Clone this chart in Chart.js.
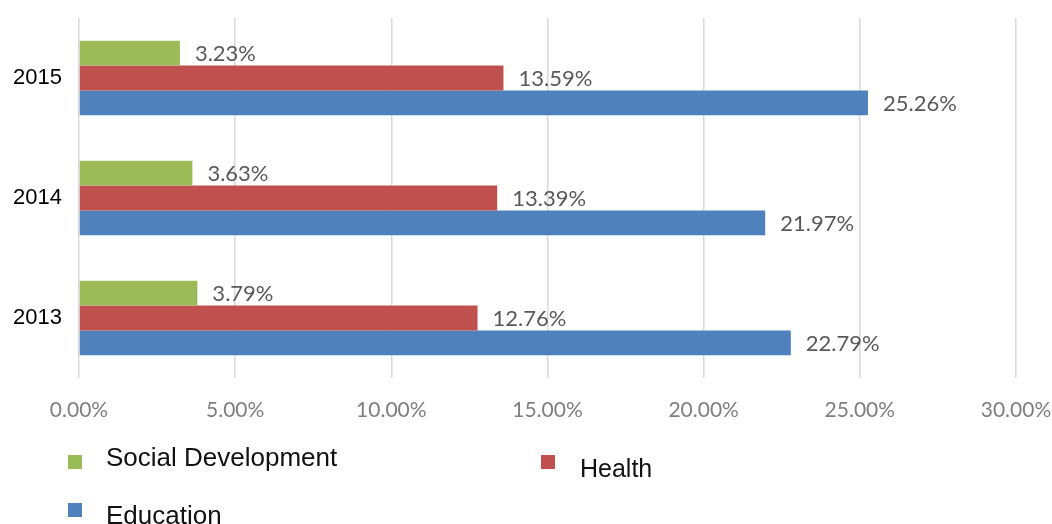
<!DOCTYPE html>
<html>
<head>
<meta charset="utf-8">
<script src="https://cdn.jsdelivr.net/npm/chart.js@4"></script>
<style>
  body { margin: 0; background: #fff; }
  #wrap { position: relative; width: 1052px; height: 524px; overflow: hidden; }
  .leg { position: absolute; font-family: "Liberation Sans", Arial, sans-serif; font-size: 26px; color: #111; white-space: nowrap; }
  .sw { position: absolute; width: 14px; height: 14px; }
</style>
</head>
<body>
<div id="wrap">
  <canvas id="chart"></canvas>
  <div class="sw" style="left:68px;top:455px;background:#9bbb59"></div>
  <div class="leg" style="left:106px;top:442px">Social Development</div>
  <div class="sw" style="left:541px;top:455px;background:#c0504d"></div>
  <div class="leg" style="left:580px;top:454px;font-size:25px">Health</div>
  <div class="sw" style="left:68px;top:503px;background:#4f81bd"></div>
  <div class="leg" style="left:106px;top:500px">Education</div>
</div>
<script>
const years = ['2015', '2014', '2013'];
const socialDev = [3.23, 3.63, 3.79];
const health = [13.59, 13.39, 12.76];
const education = [25.26, 21.97, 22.79];
const xTicks = [0, 5, 10, 15, 20, 25, 30];

// value labels to the right of each bar
const barLabels = {
    id: 'barLabels',
    afterDatasetsDraw(chart) {
        const ctx = chart.ctx;
        ctx.save();
        ctx.font = '22px Lato, "Liberation Sans", sans-serif';
        ctx.fillStyle = '#595959';
        ctx.textBaseline = 'middle';
        ctx.textAlign = 'left';
        chart.data.datasets.forEach((ds, i) => {
            chart.getDatasetMeta(i).data.forEach((bar, j) => {
                ctx.fillText(ds.data[j].toFixed(2) + '%', bar.x + 15, bar.y + 1);
            });
        });
        ctx.restore();
    }
};

const noPad = (s) => { s.paddingLeft = 0; s.paddingRight = 0; s.paddingTop = 0; s.paddingBottom = 0; };

new Chart(document.getElementById('chart'), {
    type: 'bar',
    data: {
        labels: years,
        datasets: [
            { label: 'Social Development', data: socialDev, backgroundColor: '#9bbb59' },
            { label: 'Health', data: health, backgroundColor: '#c0504d' },
            { label: 'Education', data: education, backgroundColor: '#4f81bd' }
        ]
    },
    options: {
        indexAxis: 'y',
        responsive: true,
        maintainAspectRatio: false,
        animation: false,
        layout: { padding: { top: 18, right: 36, left: 0, bottom: 0 } },
        datasets: { bar: { categoryPercentage: 0.62, barPercentage: 1.0 } },
        plugins: { legend: { display: false }, tooltip: { enabled: false } },
        scales: {
            x: {
                min: 0, max: 30,
                afterBuildTicks: (s) => { s.ticks = xTicks.map(v => ({ value: v })); },
                afterFit: (s) => { s.height = 146; noPad(s); },
                grid: { color: '#d9d9d9', lineWidth: 1.5, drawTicks: false },
                border: { display: false },
                ticks: {
                    padding: 20,
                    color: '#7f7f7f',
                    font: { family: 'Lato, "Liberation Sans", sans-serif', size: 21 },
                    callback: (v) => v.toFixed(2) + '%'
                }
            },
            y: {
                afterFit: (s) => { s.width = 79; noPad(s); },
                grid: { display: false },
                border: { display: false },
                ticks: {
                    padding: 9,
                    color: '#000',
                    font: { family: '"Liberation Sans", Arial, sans-serif', size: 22 }
                }
            }
        }
    },
    plugins: [barLabels]
});
</script>
</body>
</html>
